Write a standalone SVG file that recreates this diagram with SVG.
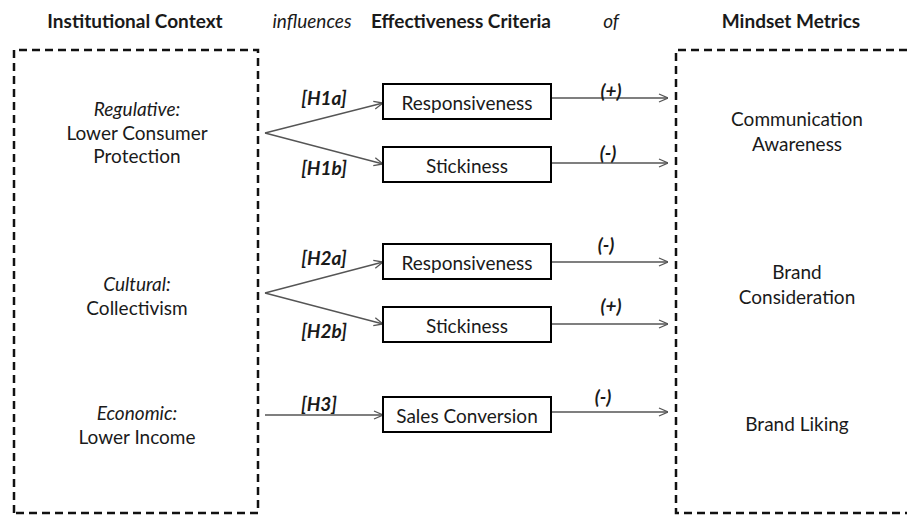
<svg xmlns="http://www.w3.org/2000/svg" width="907" height="515" viewBox="0 0 907 515">
<defs>
<marker id="ah" viewBox="0 0 10 10" refX="10" refY="5" markerWidth="10" markerHeight="10" markerUnits="userSpaceOnUse" orient="auto">
<path d="M1,1 L10,5 L1,9" fill="none" stroke="#555" stroke-width="1.3"/>
</marker>
<style>
text{font-family:Lato,"Liberation Sans",sans-serif;fill:#1a1a1a;text-anchor:middle;dominant-baseline:central}
.h{font-weight:bold;font-size:19px}
.hi{font-style:italic;font-size:19px}
.t{font-size:19px}
.ti{font-size:19px;font-style:italic}
.lbl{font-size:19px;font-weight:bold;font-style:italic}
.dash{fill:none;stroke:#111;stroke-width:2.5;stroke-dasharray:8 5}
.box{fill:#fff;stroke:#000;stroke-width:2}
.c{fill:none;stroke:#555;stroke-width:1.3;marker-end:url(#ah)}
</style>
</defs>
<rect width="907" height="515" fill="#fff"/>
<g id="headers">
<text class="h" x="135" y="20">Institutional Context</text>
<text class="hi" x="312" y="20">influences</text>
<text class="h" x="461" y="20">Effectiveness Criteria</text>
<text class="hi" x="611" y="20">of</text>
<text class="h" x="791" y="20">Mindset Metrics</text>
</g>
<g id="context">
<path class="dash" d="M14,513 L14,50 L258,50 L258,513 L14,513"/>
<text class="ti" x="137" y="108">Regulative:</text>
<text class="t" x="137" y="132">Lower Consumer</text>
<text class="t" x="137" y="155">Protection</text>
<text class="ti" x="137" y="283">Cultural:</text>
<text class="t" x="137" y="307">Collectivism</text>
<text class="ti" x="137" y="412">Economic:</text>
<text class="t" x="137" y="436">Lower Income</text>
</g>
<g id="metrics">
<path class="dash" d="M907,50 L676,50 L676,513 L907,513"/>
<text class="t" x="797" y="118">Communication</text>
<text class="t" x="797" y="143">Awareness</text>
<text class="t" x="797" y="271">Brand</text>
<text class="t" x="797" y="296">Consideration</text>
<text class="t" x="797" y="423">Brand Liking</text>
</g>
<g id="connectors">
<path class="c" d="M265,133 L383,103"/>
<path class="c" d="M265,133 L383,164"/>
<path class="c" d="M265,293 L383,262"/>
<path class="c" d="M265,293 L383,324"/>
<path class="c" d="M265,415 L383,415"/>
<path class="c" d="M551,98 L668,98"/>
<path class="c" d="M551,163 L668,163"/>
<path class="c" d="M551,262 L668,262"/>
<path class="c" d="M551,324 L668,324"/>
<path class="c" d="M551,412 L668,412"/>
<text class="lbl" x="324" y="97">[H1a]</text>
<text class="lbl" x="324" y="167">[H1b]</text>
<text class="lbl" x="324" y="257">[H2a]</text>
<text class="lbl" x="324" y="330">[H2b]</text>
<text class="lbl" x="319" y="403">[H3]</text>
<text class="lbl" x="611" y="90">(+)</text>
<text class="lbl" x="608" y="152">(-)</text>
<text class="lbl" x="606" y="244">(-)</text>
<text class="lbl" x="611" y="305">(+)</text>
<text class="lbl" x="603" y="396">(-)</text>
</g>
<g id="resp1"><rect class="box" x="383" y="84" width="168" height="35"/><text class="t" x="467" y="102">Responsiveness</text></g>
<g id="stick1"><rect class="box" x="383" y="147" width="168" height="35"/><text class="t" x="467" y="165">Stickiness</text></g>
<g id="resp2"><rect class="box" x="383" y="244" width="168" height="35"/><text class="t" x="467" y="262">Responsiveness</text></g>
<g id="stick2"><rect class="box" x="383" y="307" width="168" height="35"/><text class="t" x="467" y="325">Stickiness</text></g>
<g id="sales"><rect class="box" x="383" y="397" width="168" height="35"/><text class="t" x="467" y="415">Sales Conversion</text></g>
</svg>
